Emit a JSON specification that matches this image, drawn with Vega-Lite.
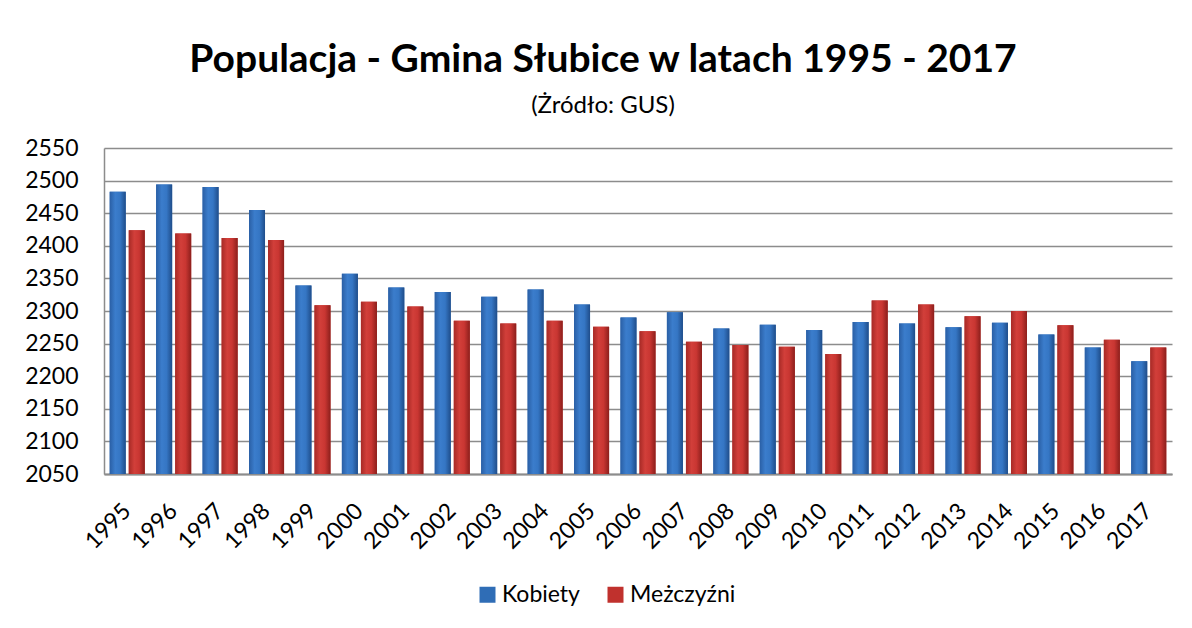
{
  "$schema": "https://vega.github.io/schema/vega-lite/v6.json",
  "width": 1068,
  "height": 326,
  "autosize": {"type": "none"},
  "padding": {"left": 104, "top": 148, "right": 20, "bottom": 154},
  "background": "white",
  "title": {
    "text": "Populacja - Gmina Słubice w latach 1995 - 2017",
    "subtitle": "(Żródło: GUS)",
    "anchor": "middle",
    "dx": -35,
    "font": "Lato",
    "fontSize": 39,
    "fontWeight": "bold",
    "color": "#000000",
    "subtitleFont": "Lato",
    "subtitleFontSize": 24,
    "subtitleColor": "#000000",
    "offset": 19,
    "subtitlePadding": 14
  },
  "data": {
    "values": [
      {"rok": "1995", "seria": "Kobiety", "wartosc": 2483},
      {"rok": "1996", "seria": "Kobiety", "wartosc": 2494},
      {"rok": "1997", "seria": "Kobiety", "wartosc": 2490},
      {"rok": "1998", "seria": "Kobiety", "wartosc": 2455},
      {"rok": "1999", "seria": "Kobiety", "wartosc": 2339},
      {"rok": "2000", "seria": "Kobiety", "wartosc": 2357},
      {"rok": "2001", "seria": "Kobiety", "wartosc": 2336},
      {"rok": "2002", "seria": "Kobiety", "wartosc": 2329},
      {"rok": "2003", "seria": "Kobiety", "wartosc": 2322},
      {"rok": "2004", "seria": "Kobiety", "wartosc": 2333},
      {"rok": "2005", "seria": "Kobiety", "wartosc": 2310},
      {"rok": "2006", "seria": "Kobiety", "wartosc": 2290},
      {"rok": "2007", "seria": "Kobiety", "wartosc": 2298},
      {"rok": "2008", "seria": "Kobiety", "wartosc": 2273},
      {"rok": "2009", "seria": "Kobiety", "wartosc": 2279},
      {"rok": "2010", "seria": "Kobiety", "wartosc": 2271},
      {"rok": "2011", "seria": "Kobiety", "wartosc": 2283},
      {"rok": "2012", "seria": "Kobiety", "wartosc": 2281},
      {"rok": "2013", "seria": "Kobiety", "wartosc": 2275},
      {"rok": "2014", "seria": "Kobiety", "wartosc": 2282},
      {"rok": "2015", "seria": "Kobiety", "wartosc": 2264},
      {"rok": "2016", "seria": "Kobiety", "wartosc": 2244},
      {"rok": "2017", "seria": "Kobiety", "wartosc": 2223},
      {"rok": "1995", "seria": "Meżczyźni", "wartosc": 2424},
      {"rok": "1996", "seria": "Meżczyźni", "wartosc": 2419},
      {"rok": "1997", "seria": "Meżczyźni", "wartosc": 2412},
      {"rok": "1998", "seria": "Meżczyźni", "wartosc": 2409},
      {"rok": "1999", "seria": "Meżczyźni", "wartosc": 2309},
      {"rok": "2000", "seria": "Meżczyźni", "wartosc": 2314},
      {"rok": "2001", "seria": "Meżczyźni", "wartosc": 2307},
      {"rok": "2002", "seria": "Meżczyźni", "wartosc": 2285},
      {"rok": "2003", "seria": "Meżczyźni", "wartosc": 2281},
      {"rok": "2004", "seria": "Meżczyźni", "wartosc": 2285},
      {"rok": "2005", "seria": "Meżczyźni", "wartosc": 2276},
      {"rok": "2006", "seria": "Meżczyźni", "wartosc": 2269},
      {"rok": "2007", "seria": "Meżczyźni", "wartosc": 2253},
      {"rok": "2008", "seria": "Meżczyźni", "wartosc": 2248},
      {"rok": "2009", "seria": "Meżczyźni", "wartosc": 2245},
      {"rok": "2010", "seria": "Meżczyźni", "wartosc": 2234},
      {"rok": "2011", "seria": "Meżczyźni", "wartosc": 2316},
      {"rok": "2012", "seria": "Meżczyźni", "wartosc": 2310},
      {"rok": "2013", "seria": "Meżczyźni", "wartosc": 2292},
      {"rok": "2014", "seria": "Meżczyźni", "wartosc": 2300},
      {"rok": "2015", "seria": "Meżczyźni", "wartosc": 2278},
      {"rok": "2016", "seria": "Meżczyźni", "wartosc": 2256},
      {"rok": "2017", "seria": "Meżczyźni", "wartosc": 2244}
    ]
  },
  "encoding": {
    "x": {
      "field": "rok",
      "type": "nominal",
      "scale": {"paddingInner": 0.245, "paddingOuter": 0.123},
      "axis": {
        "title": null,
        "labelAngle": -45,
        "labelAlign": "right",
        "labelBaseline": "middle",
        "labelFont": "Lato",
        "labelFontSize": 23,
        "labelColor": "#000000",
        "labelPadding": 33,
        "ticks": false,
        "domain": true,
        "domainColor": "#8c8c8c",
        "domainWidth": 2,
        "grid": false
      }
    },
    "xOffset": {
      "field": "seria",
      "type": "nominal",
      "scale": {"paddingInner": 0.16, "paddingOuter": 0}
    },
    "y": {
      "field": "wartosc",
      "type": "quantitative",
      "scale": {"domain": [2050, 2550], "zero": false, "nice": false},
      "axis": {
        "title": null,
        "format": "d",
        "values": [2050, 2100, 2150, 2200, 2250, 2300, 2350, 2400, 2450, 2500, 2550],
        "labelFont": "Lato",
        "labelFontSize": 23,
        "labelColor": "#000000",
        "labelPadding": 26,
        "ticks": false,
        "domain": true,
        "domainColor": "#8c8c8c",
        "domainWidth": 1.5,
        "grid": true,
        "gridColor": "#8c8c8c",
        "gridWidth": 1.5
      }
    },
    "y2": {"datum": 2050}
  },
  "layer": [
    {
      "mark": {"type": "bar"},
      "encoding": {
        "fill": {
          "field": "seria",
          "type": "nominal",
          "scale": {"domain": ["Kobiety", "Meżczyźni"], "range": ["#2f6db6", "#c0312d"]},
          "legend": {
            "title": null,
            "orient": "none",
            "legendX": 372,
            "legendY": 435,
            "direction": "horizontal",
            "symbolType": "square",
            "symbolSize": 256,
            "symbolStrokeWidth": 0,
            "labelFont": "Lato",
            "labelFontSize": 23,
            "labelColor": "#000000",
            "labelOffset": 3,
            "columnPadding": 24
          }
        }
      }
    },
    {
      "mark": {"type": "bar"},
      "encoding": {
        "fill": {
          "condition": {
            "test": "datum.seria === 'Kobiety'",
            "value": {
              "gradient": "linear",
              "x1": 0, "y1": 0, "x2": 1, "y2": 0,
              "stops": [
                {"offset": 0, "color": "#2a5fa5"},
                {"offset": 0.35, "color": "#3b7dcc"},
                {"offset": 0.65, "color": "#3576c4"},
                {"offset": 1, "color": "#1f4d8a"}
              ]
            }
          },
          "value": {
            "gradient": "linear",
            "x1": 0, "y1": 0, "x2": 1, "y2": 0,
            "stops": [
              {"offset": 0, "color": "#a72a26"},
              {"offset": 0.35, "color": "#d23f3a"},
              {"offset": 0.65, "color": "#c93632"},
              {"offset": 1, "color": "#8c1f1c"}
            ]
          }
        }
      }
    }
  ],
  "config": {
    "view": {"stroke": null}
  }
}
